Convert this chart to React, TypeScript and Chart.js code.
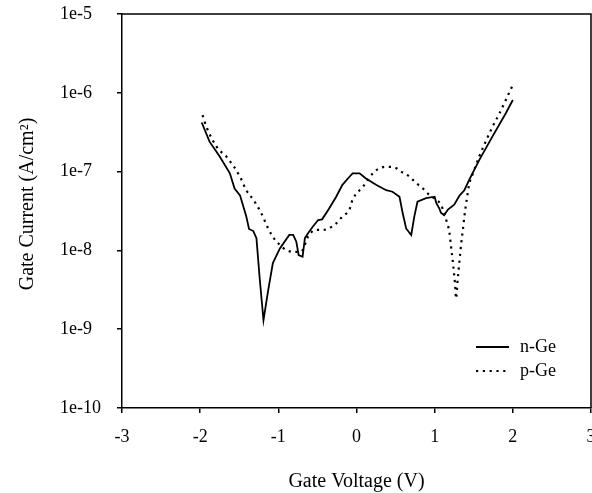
import React, { useEffect, useRef } from "react";
import { Chart, registerables } from "chart.js";

Chart.register(...registerables);

// n-Ge (solid)
const nGeVoltage = [-1.98, -1.88, -1.75, -1.62, -1.56, -1.49, -1.41, -1.375, -1.32, -1.28, -1.24, -1.19, -1.13, -1.07, -0.98, -0.86, -0.81, -0.77, -0.74, -0.69, -0.66, -0.62, -0.56, -0.49, -0.44, -0.35, -0.26, -0.18, -0.09, -0.05, 0.04, 0.12, 0.25, 0.38, 0.46, 0.55, 0.59, 0.635, 0.7, 0.74, 0.78, 0.89, 1.0, 1.02, 1.06, 1.08, 1.12, 1.17, 1.25, 1.32, 1.38, 1.44, 1.57, 1.74, 1.91, 2.0];
const nGeCurrent = [4.2e-7, 2.4e-7, 1.55e-7, 9.5e-8, 6.1e-8, 5.0e-8, 2.7e-8, 1.87e-8, 1.76e-8, 1.43e-8, 4.6e-9, 1.3e-9, 3.1e-9, 6.9e-9, 1.06e-8, 1.57e-8, 1.57e-8, 1.29e-8, 8.7e-9, 8.3e-9, 1.43e-8, 1.65e-8, 2.0e-8, 2.43e-8, 2.48e-8, 3.4e-8, 4.8e-8, 6.8e-8, 8.6e-8, 9.5e-8, 9.5e-8, 8.2e-8, 6.8e-8, 5.8e-8, 5.55e-8, 4.8e-8, 3.0e-8, 1.9e-8, 1.57e-8, 2.7e-8, 4.15e-8, 4.6e-8, 4.8e-8, 4.0e-8, 3.4e-8, 3.0e-8, 2.8e-8, 3.3e-8, 3.8e-8, 5.0e-8, 5.8e-8, 7.8e-8, 1.4e-7, 2.8e-7, 5.5e-7, 8.1e-7];

// p-Ge (dotted)
const pGeVoltage = [-1.97, -1.92, -1.79, -1.65, -1.49, -1.41, -1.32, -1.22, -1.13, -1.07, -0.98, -0.9, -0.81, -0.73, -0.69, -0.62, -0.52, -0.43, -0.35, -0.26, -0.18, -0.09, -0.05, 0.08, 0.21, 0.29, 0.4, 0.49, 0.57, 0.68, 0.76, 0.85, 0.93, 1.02, 1.08, 1.12, 1.15, 1.19, 1.21, 1.23, 1.26, 1.275, 1.29, 1.315, 1.34, 1.36, 1.38, 1.41, 1.44, 1.49, 1.57, 1.66, 1.74, 1.83, 1.91, 2.0];
const pGeCurrent = [5.2e-7, 3.7e-7, 2.07e-7, 1.49e-7, 8.6e-8, 5.8e-8, 4.4e-8, 3.0e-8, 1.9e-8, 1.49e-8, 1.17e-8, 1.01e-8, 9.6e-9, 9.6e-9, 1.01e-8, 1.49e-8, 1.82e-8, 1.82e-8, 1.91e-8, 2.2e-8, 2.7e-8, 3.3e-8, 4.4e-8, 6.4e-8, 9.5e-8, 1.1e-7, 1.15e-7, 1.13e-7, 1.0e-7, 8.6e-8, 7.2e-8, 6.1e-8, 5.05e-8, 4.4e-8, 3.8e-8, 3.0e-8, 2.4e-8, 1.65e-8, 1.1e-8, 7.5e-9, 3.8e-9, 2.45e-9, 3.8e-9, 6.9e-9, 1.23e-8, 1.8e-8, 2.7e-8, 4.4e-8, 6.8e-8, 9.5e-8, 1.55e-7, 2.5e-7, 3.7e-7, 5.5e-7, 8.1e-7, 1.26e-6];

const yTickValues = [1e-10, 1e-9, 1e-8, 1e-7, 1e-6, 1e-5];
const yTickLabels = ["1e-10", "1e-9", "1e-8", "1e-7", "1e-6", "1e-5"];
const xTickValues = [-3, -2, -1, 0, 1, 2, 3];

const seriesNames = ["n-Ge", "p-Ge"];
const xTitle = "Gate Voltage (V)";
const yTitle = "Gate Current (A/cm²)";

const FONT = '"Liberation Serif", "Times New Roman", serif';

const framePlugin = {
  id: "frameAndText",
  afterDraw(chart: any) {
    const { ctx, chartArea } = chart;
    const { left, right, top, bottom } = chartArea;
    ctx.save();
    ctx.strokeStyle = "#000";
    ctx.lineWidth = 1.5;
    ctx.beginPath();
    ctx.moveTo(left, top);
    ctx.lineTo(right, top);
    ctx.lineTo(right, bottom);
    ctx.stroke();

    // axis titles
    ctx.fillStyle = "#000";
    ctx.font = `20px ${FONT}`;
    ctx.textAlign = "center";
    ctx.textBaseline = "alphabetic";
    ctx.fillText(xTitle, (left + right) / 2, 487);
    ctx.save();
    ctx.translate(33, 204);
    ctx.rotate(-Math.PI / 2);
    ctx.fillText(yTitle, 0, 0);
    ctx.restore();

    // legend
    const ds = chart.data.datasets;
    const rows = [347, 371];
    ctx.font = `18px ${FONT}`;
    ctx.textAlign = "left";
    ctx.textBaseline = "middle";
    ds.forEach((d: any, i: number) => {
      const y = rows[i];
      ctx.save();
      ctx.strokeStyle = d.borderColor;
      ctx.lineWidth = d.borderWidth;
      ctx.setLineDash(d.borderDash || []);
      ctx.beginPath();
      ctx.moveTo(476, y);
      ctx.lineTo(509, y);
      ctx.stroke();
      ctx.restore();
      ctx.fillText(d.label, 520, y);
    });
    ctx.restore();
  },
};

export default function App() {
  const ref = useRef<HTMLCanvasElement>(null);
  useEffect(() => {
    document.body.style.margin = "0";
    const canvas = ref.current!;
    const chart = new Chart(canvas, {
      type: "line",
      data: {
        datasets: [
          {
            label: seriesNames[0],
            data: nGeVoltage.map((v, i) => ({ x: v, y: nGeCurrent[i] })),
            borderColor: "#000",
            borderWidth: 1.8,
            pointRadius: 0,
            tension: 0,
            fill: false,
          },
          {
            label: seriesNames[1],
            data: pGeVoltage.map((v, i) => ({ x: v, y: pGeCurrent[i] })),
            borderColor: "#000",
            borderWidth: 2.2,
            borderDash: [2.2, 4.6],
            pointRadius: 0,
            cubicInterpolationMode: "monotone",
            fill: false,
          },
        ],
      },
      options: {
        animation: false,
        responsive: false,
        devicePixelRatio: 1,
        layout: { padding: { left: 60, top: 14, right: 1, bottom: 0 } },
        plugins: { legend: { display: false }, tooltip: { enabled: false } },
        scales: {
          x: {
            type: "linear",
            min: -3,
            max: 3,
            afterBuildTicks: (s: any) => {
              s.ticks = xTickValues.map((v) => ({ value: v }));
            },
            afterFit: (s: any) => {
              s.height = 85;
              s.paddingLeft = 0;
              s.paddingRight = 0;
            },
            ticks: {
              color: "#000",
              font: { family: FONT, size: 18 },
              padding: 13,
              maxRotation: 0,
              autoSkip: false,
              callback: (v: any) => String(v),
            },
            grid: { drawOnChartArea: false, drawTicks: true, tickLength: 5, color: "#000", lineWidth: 1.5 },
            border: { display: true, color: "#000", width: 1.5 },
          },
          y: {
            type: "logarithmic",
            min: 1e-10,
            max: 1e-5,
            afterBuildTicks: (s: any) => {
              s.ticks = yTickValues.map((v) => ({ value: v }));
            },
            afterFit: (s: any) => {
              s.width = 62;
              s.paddingTop = 0;
              s.paddingBottom = 0;
            },
            ticks: {
              color: "#000",
              font: { family: FONT, size: 18 },
              crossAlign: "far",
              autoSkip: false,
              callback: (v: any) => {
                const idx = yTickValues.findIndex((t) => Math.abs(Math.log10(t) - Math.log10(v)) < 1e-6);
                return idx >= 0 ? yTickLabels[idx] : "";
              },
            },
            grid: { drawOnChartArea: false, drawTicks: true, tickLength: 5, color: "#000", lineWidth: 1.5 },
            border: { display: true, color: "#000", width: 1.5 },
          },
        },
      },
      plugins: [framePlugin],
    });
    return () => chart.destroy();
  }, []);
  return (
    <div style={{ width: 592, height: 493, background: "#fff" }}>
      <canvas ref={ref} width={592} height={493} style={{ display: "block" }} />
    </div>
  );
}
